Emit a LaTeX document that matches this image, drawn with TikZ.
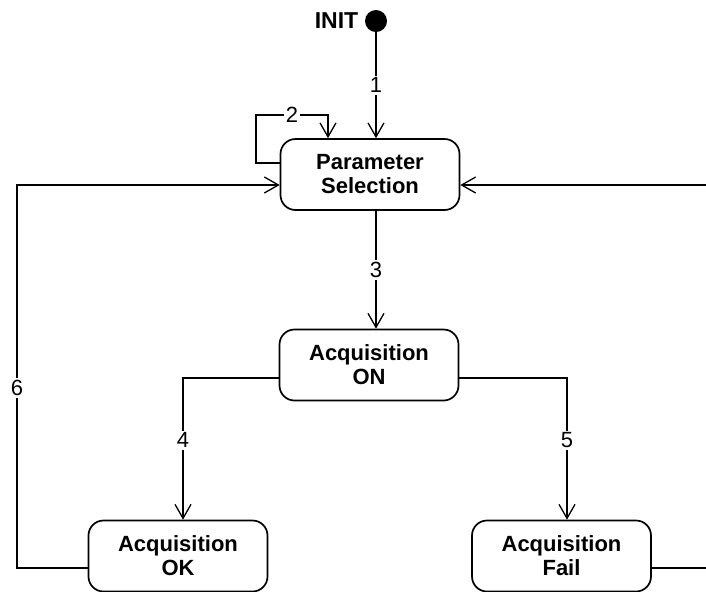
\documentclass[tikz,border=0pt]{standalone}
\usepackage{fontspec}
\setmainfont{Liberation Sans}
\usetikzlibrary{arrows.meta,positioning}

\begin{document}
\begin{tikzpicture}[x=0.5pt,y=-0.5pt,
  state/.style={rectangle, draw, rounded corners=7.5pt, line width=0.85pt,
    minimum width=89.5pt, minimum height=35.5pt, align=center,
    font=\fontsize{11}{12}\selectfont\bfseries},
  trans/.style={line width=0.65pt, -{Straight Barb[length=7pt,width=8pt]}},
  lbl/.style={fill=white, inner sep=1pt, font=\fontsize{11}{12}\selectfont}]
\useasboundingbox (0,0) rectangle (706,591);
\clip (0,0) rectangle (706,591);

\node[circle, fill, inner sep=0pt, minimum size=11pt] (init) at (376,21) {};
\node[left=3pt of init, inner sep=0pt, font=\fontsize{11.5}{12}\selectfont\bfseries] (initlbl) {INIT};

\node[state] (par) at (370,174.5) {Parameter\\Selection};
\node[state] (on) at (369,365) {Acquisition\\ON};
\node[state] (ok) at (178,556) {Acquisition\\OK};
\node[state] (fail) at (561.5,556) {Acquisition\\Fail};

\coordinate (loop2) at (256,115);
\coordinate (loop2b) at (328,115);
\coordinate (rail6) at (17,185);
\coordinate (rail7) at (711,185);

\draw[trans] (init) -- node[lbl] {1} (init |- par.north);
\draw[trans] ([yshift=5.75pt]par.west) -| (loop2) -- node[lbl] {2} (loop2b) -- (loop2b |- par.north);
\draw[trans] (par.south -| init) -- node[lbl] {3} (on.north -| init);
\draw[trans] ([yshift=-6.5pt]on.west) -| node[lbl, pos=0.72] {4} ([xshift=2.5pt]ok.north);
\draw[trans] ([yshift=-6.5pt]on.east) -| node[lbl, pos=0.72] {5} ([xshift=2.75pt]fail.north);
\draw[trans] ([yshift=-6pt]ok.west) -| node[lbl, pos=0.735] {6} (rail6) -- ([yshift=-5.25pt]par.west);
\draw[trans] ([yshift=-6pt]fail.east) -| (rail7) -- ([yshift=-5.25pt]par.east);
\end{tikzpicture}
\end{document}
